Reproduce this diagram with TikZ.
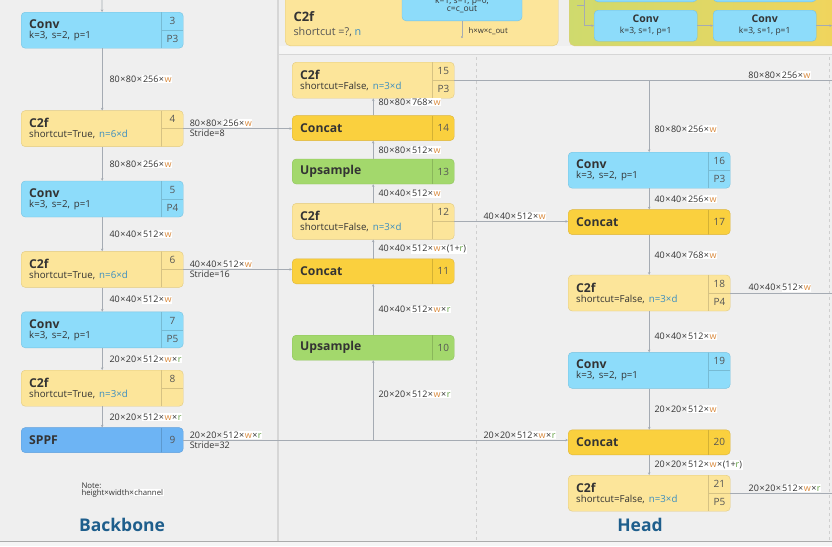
\documentclass[tikz,border=0pt]{standalone}
\usepackage{fontspec}
\setmainfont{Open Sans}
\usepackage{tikz}
\usetikzlibrary{arrows.meta, positioning}

\definecolor{bgc}{HTML}{EFEFEF}
\definecolor{bandc}{HTML}{F5F5F5}
\definecolor{sepc}{HTML}{D6D6D6}
\definecolor{dashc}{HTML}{CFCFCF}
\definecolor{txt}{HTML}{333333}
\definecolor{numc}{HTML}{555555}
\definecolor{linec}{HTML}{A5ABB3}
\definecolor{wcol}{HTML}{D98A3D}
\definecolor{rcol}{HTML}{5E9E3F}
\definecolor{ncol}{HTML}{3A8DC0}
\definecolor{convfill}{HTML}{8DDCFA}
\definecolor{convdraw}{HTML}{79C2DF}
\definecolor{c2ffill}{HTML}{FCE59A}
\definecolor{c2fdraw}{HTML}{E2CA7F}
\definecolor{catfill}{HTML}{FAD03E}
\definecolor{catdraw}{HTML}{DDB53A}
\definecolor{upfill}{HTML}{A3D86C}
\definecolor{updraw}{HTML}{8EC35B}
\definecolor{spfill}{HTML}{6DB4F4}
\definecolor{spdraw}{HTML}{5E9FDD}
\definecolor{headc}{HTML}{1E5E8C}
\definecolor{gtop}{HTML}{CFDA6D}
\definecolor{gbot}{HTML}{F2D45C}

\newcommand\fTitle{\fontsize{12.2}{13}\selectfont\bfseries}
\newcommand\fSub{\fontsize{9.7}{11}\selectfont\mdseries}
\newcommand\fNum{\fontsize{10}{12}\selectfont}
\newcommand\fDim{\fontsize{9}{10}\selectfont}
\newcommand\fSmall{\fontsize{8.5}{10}\selectfont}
\newcommand\fTiny{\fontsize{7.8}{9}\selectfont}
\newcommand\fRegion{\fontsize{17.5}{20}\selectfont\bfseries}
\newcommand\wmul{\textcolor{wcol}{w}}
\newcommand\rmul{\textcolor{rcol}{r}}
\newcommand\by{\kern0.5pt×\kern0.5pt}
\newcommand\hilite[1]{{\setlength{\fboxsep}{0.6pt}\colorbox{white}{#1}}}

\begin{document}
\begin{tikzpicture}[x=1pt, y=-1pt,
        blk/.style={
            rectangle,
            rounded corners=4pt,
            anchor=north west,
            inner xsep=8pt,
            inner ysep=0pt,
            text width=146pt,
            align=left,
            font=\fTitle,
            text=txt
        },
        divider/.style={draw=black, draw opacity=0.15, line width=0.6pt},
        two/.style={
            minimum height=36pt,
            path picture={
                \draw[divider] ([xshift=-22pt]path picture bounding box.north east) -- ([xshift=-22pt]path picture bounding box.south east)
                    ([xshift=-22pt]path picture bounding box.east) -- (path picture bounding box.east);
            }
        },
        one/.style={
            minimum height=25pt,
            path picture={
                \draw[divider] ([xshift=-22pt]path picture bounding box.north east) -- ([xshift=-22pt]path picture bounding box.south east);
            }
        },
        conv/.style={blk, two, fill=convfill, draw=convdraw},
        c2fbox/.style={blk, two, fill=c2ffill, draw=c2fdraw},
        concat/.style={blk, one, fill=catfill, draw=catdraw},
        upsmp/.style={blk, one, fill=upfill, draw=updraw},
        sppf/.style={blk, one, fill=spfill, draw=spdraw},
        numtext/.style={anchor=center, xshift=-11pt, font=\fNum, text=numc, inner sep=0pt},
        nums/.style 2 args={
            label={[numtext, yshift=-9pt]north east:#1},
            label={[numtext, yshift=9pt]south east:#2}
        },
        num/.style={label={[numtext]east:#1}},
        conn/.style={draw=linec, line width=0.7pt, -{Stealth[length=2.6pt, width=2.6pt]}},
        wire/.style={draw=linec, line width=0.7pt},
        dim/.style={font=\fDim, text=txt, inner sep=1pt},
        minibox/.style={
            rectangle,
            rounded corners=4pt,
            fill=convfill,
            draw=convdraw,
            minimum width=103pt,
            minimum height=31pt,
            align=center,
            font=\fSmall,
            text=txt,
            inner sep=0pt
        }
    ]

    \useasboundingbox (0,0) rectangle (832,546);
    \clip (0,0) rectangle (832,546);

    % Panels
    \fill[bgc] (0,0) rectangle (832,546);
    \fill[bandc] (278,46) rectangle (832,54);
    \draw[sepc, line width=1.2pt] (278,54.5) -- (832,54.5);
    \draw[sepc, line width=1.2pt] (278,0) -- (278,541);
    \draw[dashc, dashed, line width=0.8pt] (476,57) -- (476,541);
    \draw[dashc, dashed, line width=0.8pt] (829,57) -- (829,541);
    \fill[bandc] (0,541) rectangle (832,546);
    \draw[sepc!80!black, line width=1pt] (0,541) -- (832,541);

    % C2f detail
    \node[rectangle, rounded corners=5pt, fill=c2ffill, draw=c2fdraw, minimum width=273pt,
          minimum height=70pt, anchor=south west] (dtl) at (285,46) {};
    \node[anchor=west, font=\fontsize{13}{14}\selectfont\bfseries, text=txt] (dtlname) at (290,17) {C2f};
    \node[anchor=west, font=\fontsize{10.8}{12}\selectfont, text=numc] (dtlarg) at (290,32) {shortcut =?, \textcolor{ncol}{n}};
    \node[minibox, minimum width=120pt, minimum height=40pt, anchor=south] (cv1) at (462,21) {};
    \node[font=\fSmall, text=txt, align=center] (cv1txt) at (462,5) {k=1, s=1, p=0,\\[-2pt]c=c\_out};
    \coordinate (cv1out) at (462,38);
    \draw[wire, -{Circle[length=2pt]}] (cv1) -- (cv1out);
    \node[anchor=west, font=\fTiny, text=txt] (cv1dim) at (465,31) {h×w×c\_out};

    % Bottleneck detail
    \node[rectangle, rounded corners=5pt, left color=gtop, right color=gbot, draw=c2fdraw,
          minimum width=280pt, minimum height=70pt, anchor=south west] (btl) at (569,46) {};
    \node[minibox, anchor=south west] (kc) at (594,2) {};
    \node[minibox, anchor=south west] (kd) at (713,2) {};
    \node[minibox, anchor=north west] (ka) at (594,10) {{\fontsize{10.5}{11}\selectfont\bfseries Conv}\\[1pt]k=3, s=1, p=1};
    \node[minibox, anchor=north west] (kb) at (713,10) {{\fontsize{10.5}{11}\selectfont\bfseries Conv}\\[1pt]k=3, s=1, p=1};
    \coordinate (ktop) at (584,-5);
    \coordinate (kstub) at (577,5);
    \coordinate (edge) at (832,0);
    \draw[conn] (ktop) |- (ka.west);
    \draw[wire] (kstub) -- (kstub -| ktop);
    \draw[conn] (ka) -- (kb);
    \draw[conn] (kb) -- (kb.east -| edge);

    % Backbone
    \coordinate (in3) at (102,0);
    \node[conv, nums={3}{P3}] (c3) at (21,12) {Conv\\[-3pt]{\fSub k=3, s=2, p=1}};
    \node[c2fbox, nums={4}{}, below=62pt of c3] (c4) {C2f\\[-3pt]{\fSub shortcut=True, \textcolor{ncol}{n=6×d}}};
    \node[conv, nums={5}{P4}, below=34pt of c4] (c5) {Conv\\[-3pt]{\fSub k=3, s=2, p=1}};
    \node[c2fbox, nums={6}{}, below=34pt of c5] (c6) {C2f\\[-3pt]{\fSub shortcut=True, \textcolor{ncol}{n=6×d}}};
    \node[conv, nums={7}{P5}, below=24pt of c6] (c7) {Conv\\[-3pt]{\fSub k=3, s=2, p=1}};
    \node[c2fbox, nums={8}{}, below=22pt of c7] (c8) {C2f\\[-3pt]{\fSub shortcut=True, \textcolor{ncol}{n=3×d}}};
    \node[sppf, num={9}, below=21pt of c8] (c9) {SPPF};

    \draw[conn] (in3) -- (c3);
    \draw[conn] (c3) -- node[dim, right=6pt] {80\by80\by\hilite{256\by\wmul}} (c4);
    \draw[conn] (c4) -- node[dim, right=6pt] {80\by80\by\hilite{256\by\wmul}} (c5);
    \draw[conn] (c5) -- node[dim, right=6pt] {40\by40\by\hilite{512\by\wmul}} (c6);
    \draw[conn] (c6) -- node[dim, right=6pt] {40\by40\by\hilite{512\by\wmul}} (c7);
    \draw[conn] (c7) -- node[dim, right=6pt] {20\by20\by\hilite{512\by\wmul\by\rmul}} (c8);
    \draw[conn] (c8) -- node[dim, right=6pt] {20\by20\by\hilite{512\by\wmul\by\rmul}} (c9);

    \node[anchor=north west, font=\fTiny, text=txt, align=left] (note) at (78,479) {Note:\\[-2pt]height×width×\hilite{channel}};
    \node[font=\fRegion, text=headc] (backbone) at (122,525) {Backbone};

    % Head, upward path
    \node[c2fbox, nums={15}{P3}] (c15) at (292,62) {C2f\\[-3pt]{\fSub shortcut=False, \textcolor{ncol}{n=3×d}}};
    \node[concat, num={14}, below=17pt of c15] (c14) {Concat};
    \node[upsmp, num={13}, below=18pt of c14] (c13) {Upsample};
    \node[c2fbox, nums={12}{}, below=19pt of c13] (c12) {C2f\\[-3pt]{\fSub shortcut=False, \textcolor{ncol}{n=3×d}}};
    \node[concat, num={11}, below=19pt of c12] (c11) {Concat};
    \node[upsmp, num={10}, below=51pt of c11] (c10) {Upsample};

    \coordinate (j10) at (c9.east -| c10.south);
    \draw[conn] (j10) -- node[dim, right=4pt, pos=0.58] {20\by20\by\hilite{512\by\wmul\by\rmul}} (c10);
    \draw[conn] (c10) -- node[dim, right=4pt] {40\by40\by\hilite{512\by\wmul\by\rmul}} (c11);
    \draw[conn] (c11) -- node[dim, right=4pt] {40\by40\by\hilite{512\by\wmul\by(1+\rmul)}} (c12);
    \draw[conn] (c12) -- node[dim, right=4pt] {40\by40\by\hilite{512\by\wmul}} (c13);
    \draw[conn] (c13) -- node[dim, right=4pt] {80\by80\by\hilite{512\by\wmul}} (c14);
    \draw[conn] (c14) -- node[dim, right=4pt, pos=0.77] {80\by80\by\hilite{768\by\wmul}} (c15);

    % Head, downward path
    \node[conv, nums={16}{P3}] (c16) at (568,152) {Conv\\[-3pt]{\fSub k=3, s=2, p=1}};
    \node[concat, num={17}, below=21pt of c16] (c17) {Concat};
    \node[c2fbox, nums={18}{P4}, below=40pt of c17] (c18) {C2f\\[-3pt]{\fSub shortcut=False, \textcolor{ncol}{n=3×d}}};
    \node[conv, nums={19}{}, below=41pt of c18] (c19) {Conv\\[-3pt]{\fSub k=3, s=2, p=1}};
    \node[concat, num={20}, below=41pt of c19] (c20) {Concat};
    \node[c2fbox, nums={21}{P5}, below=20pt of c20] (c21) {C2f\\[-3pt]{\fSub shortcut=False, \textcolor{ncol}{n=3×d}}};

    \coordinate (j16) at (c15.east -| c16.north);
    \draw[conn] (j16) -- node[dim, right=4pt, pos=0.68] {80\by80\by\hilite{256\by\wmul}} (c16);
    \draw[conn] (c16) -- node[dim, right=4pt] {40\by40\by\hilite{256\by\wmul}} (c17);
    \draw[conn] (c17) -- node[dim, right=4pt] {40\by40\by\hilite{768\by\wmul}} (c18);
    \draw[conn] (c18) -- node[dim, right=4pt, pos=0.6] {40\by40\by\hilite{512\by\wmul}} (c19);
    \draw[conn] (c19) -- node[dim, right=4pt] {20\by20\by\hilite{512\by\wmul}} (c20);
    \draw[conn] (c20) -- node[dim, right=4pt] {20\by20\by\hilite{512\by\wmul\by(1+\rmul)}} (c21);

    \node[font=\fRegion, text=headc] (head) at (640,525) {Head};

    % Lateral links
    \draw[conn] (c4.east) -- node[dim, above right, pos=0, xshift=5pt] {80\by80\by\hilite{256\by\wmul}}
        node[dim, below right, pos=0, xshift=5pt] {Stride=8} (c4.east -| c14.west);
    \draw[conn] (c6.east) -- node[dim, above right, pos=0, xshift=5pt] {40\by40\by\hilite{512\by\wmul}}
        node[dim, below right, pos=0, xshift=5pt] {Stride=16} (c6.east -| c11.west);
    \draw[conn] (c9.east) -- node[dim, above right, pos=0, xshift=5pt] {20\by20\by\hilite{512\by\wmul\by\rmul}}
        node[dim, below right, pos=0, xshift=5pt] {Stride=32}
        node[dim, above right, pos=0.777] {20\by20\by\hilite{512\by\wmul\by\rmul}} (c9.east -| c20.west);
    \draw[conn] (c12.east) -- node[dim, above right, pos=0.245] {40\by40\by\hilite{512\by\wmul}} (c12.east -| c17.west);

    % Outputs
    \draw[wire] (c15.east) -- node[dim, above right, pos=0.775] {80\by80\by\hilite{256\by\wmul}} (c15.east -| edge);
    \draw[wire] (c18.east) -- node[dim, above right, pos=0.167] {40\by40\by\hilite{512\by\wmul}} (c18.east -| edge);
    \draw[wire] (c21.east) -- node[dim, above right, pos=0.167] {20\by20\by\hilite{512\by\wmul\by\rmul}} (c21.east -| edge);

\end{tikzpicture}
\end{document}
